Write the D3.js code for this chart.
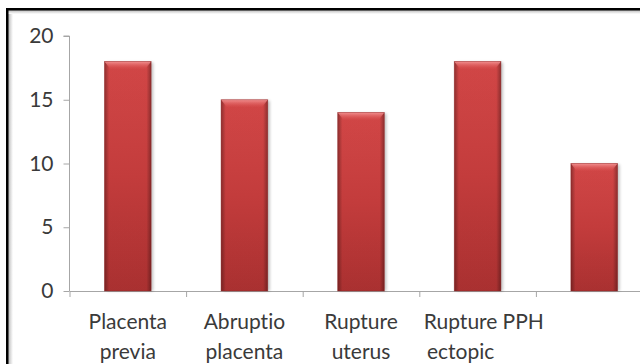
<!DOCTYPE html>
<html>
<head>
<meta charset="utf-8">
<script src="https://cdn.jsdelivr.net/npm/d3@7"></script>
<style>
  body { margin: 0; background: #fff; }
  svg { display: block; font-family: Lato, "Open Sans", sans-serif; font-variant-ligatures: none; font-feature-settings: "liga" 0; }
</style>
</head>
<body>
<svg id="chart" width="640" height="364"></svg>
<script>
// data
var categories = ["Placenta previa", "Abruptio placenta", "Rupture uterus", "Rupture ectopic", "PPH"];
var values = [18, 15, 14, 18, 10];
var yTicks = [0, 5, 10, 15, 20];

var svg = d3.select("#chart"),
    width = +svg.attr("width"),
    height = +svg.attr("height");

// plot area (runs off the right edge, like the cropped original)
var x0 = 69.5, x1 = 652.5, yTop = 36, yBot = 291;
var textColor = "#3a3a3a", axisColor = "#a6a6a6";

// frame: black top/left edge with a soft grey inner shade
var defs = svg.append("defs");
var shadeL = defs.append("linearGradient").attr("id", "shadeL");
shadeL.append("stop").attr("offset", 0).attr("stop-color", "#b8b8b8");
shadeL.append("stop").attr("offset", 1).attr("stop-color", "#fff");
var shadeT = defs.append("linearGradient").attr("id", "shadeT")
    .attr("x1", 0).attr("x2", 0).attr("y1", 0).attr("y2", 1);
shadeT.append("stop").attr("offset", 0).attr("stop-color", "#b8b8b8");
shadeT.append("stop").attr("offset", 1).attr("stop-color", "#fff");

svg.append("rect").attr("x", 8).attr("y", 10).attr("width", 5).attr("height", height - 10).attr("fill", "url(#shadeL)");
svg.append("rect").attr("x", 8).attr("y", 10).attr("width", width - 8).attr("height", 4).attr("fill", "url(#shadeT)");
svg.append("rect").attr("x", 6).attr("y", 8).attr("width", 2.5).attr("height", height - 8).attr("fill", "#000");
svg.append("rect").attr("x", 6).attr("y", 8).attr("width", width - 6).attr("height", 2.5).attr("fill", "#000");

// bar gradients
var vGrad = defs.append("linearGradient").attr("id", "barV")
    .attr("x1", 0).attr("x2", 0).attr("y1", 0).attr("y2", 1);
vGrad.append("stop").attr("offset", 0).attr("stop-color", "#dc4a4a");
vGrad.append("stop").attr("offset", 0.5).attr("stop-color", "#cd3f3f");
vGrad.append("stop").attr("offset", 1).attr("stop-color", "#b23333");

var hGrad = defs.append("linearGradient").attr("id", "barH");
hGrad.append("stop").attr("offset", 0).attr("stop-color", "#000").attr("stop-opacity", 0.35);
hGrad.append("stop").attr("offset", 0.1).attr("stop-color", "#000").attr("stop-opacity", 0.05);
hGrad.append("stop").attr("offset", 0.9).attr("stop-color", "#000").attr("stop-opacity", 0.05);
hGrad.append("stop").attr("offset", 1).attr("stop-color", "#000").attr("stop-opacity", 0.35);

var topGrad = defs.append("linearGradient").attr("id", "barTop")
    .attr("x1", 0).attr("x2", 0).attr("y1", 0).attr("y2", 1);
topGrad.append("stop").attr("offset", 0).attr("stop-color", "#f39494").attr("stop-opacity", 0.95);
topGrad.append("stop").attr("offset", 1).attr("stop-color", "#e05555").attr("stop-opacity", 0);

defs.append("filter").attr("id", "blur")
    .attr("x", "-20%").attr("y", "-5%").attr("width", "140%").attr("height", "110%")
  .append("feGaussianBlur").attr("stdDeviation", 1.5);

// scales
var x = d3.scaleBand()
    .domain(categories)
    .range([x0, x1])
    .paddingInner(0.6)
    .paddingOuter(0.3);

var xEdge = d3.scaleLinear()
    .domain([0, categories.length])
    .range([x0, x1]);

var y = d3.scaleLinear()
    .domain([0, 20])
    .range([yBot, yTop]);

// y axis
var yAxis = svg.append("g")
    .attr("transform", "translate(" + x0 + ",0)")
    .call(d3.axisLeft(y).tickValues(yTicks).tickSize(6).tickPadding(10));
yAxis.select(".domain").attr("stroke", axisColor).attr("d", "M-6," + yTop + "H0V" + yBot);
yAxis.selectAll(".tick line").attr("stroke", axisColor);
yAxis.selectAll(".tick text")
    .attr("fill", textColor)
    .style("font-size", "21px")
    .style("font-family", "Lato, sans-serif");

// x axis: ticks at category boundaries
var xAxis = svg.append("g")
    .attr("transform", "translate(0," + yBot + ")")
    .call(d3.axisBottom(xEdge).tickValues(d3.range(categories.length + 1)).tickSize(6).tickSizeOuter(0).tickFormat(""));
xAxis.select(".domain").attr("stroke", axisColor);
xAxis.selectAll(".tick line").attr("stroke", axisColor);

// bars
var bar = svg.append("g").selectAll("g")
    .data(values)
    .enter().append("g")
    .attr("transform", function(d, i) { return "translate(" + x(categories[i]) + ",0)"; });

var bw = x.bandwidth();

bar.append("rect")
    .attr("x", 2)
    .attr("y", function(d) { return y(d) + 1; })
    .attr("width", bw)
    .attr("height", function(d) { return yBot - y(d) - 1; })
    .attr("fill", "#000")
    .attr("opacity", 0.25)
    .attr("filter", "url(#blur)");

bar.append("rect")
    .attr("y", function(d) { return y(d); })
    .attr("width", bw)
    .attr("height", function(d) { return yBot - y(d); })
    .attr("fill", "url(#barV)");

bar.append("rect")
    .attr("y", function(d) { return y(d); })
    .attr("width", bw)
    .attr("height", function(d) { return yBot - y(d); })
    .attr("fill", "url(#barH)");

// bevelled top
bar.append("path")
    .attr("d", function(d) {
        var t = y(d);
        return "M0," + t + "H" + bw + "L" + (bw - 6) + "," + (t + 8) + "H6Z";
    })
    .attr("fill", "url(#barTop)");

bar.append("rect")
    .attr("y", function(d) { return y(d); })
    .attr("width", bw)
    .attr("height", function(d) { return yBot - y(d); })
    .attr("fill", "none")
    .attr("stroke", "#8e2222")
    .attr("stroke-opacity", 0.5)
    .attr("stroke-width", 0.8);

// category labels; the last two sit squeezed left as in the original
var labelNudge = [0, 0, 0, -17, -71];
var label = svg.append("g").selectAll("text")
    .data(categories)
    .enter().append("text")
    .attr("text-anchor", "middle")
    .attr("fill", textColor)
    .style("font-size", "21px")
    .attr("transform", function(d, i) {
        return "translate(" + (x(d) + bw / 2 + labelNudge[i]) + ",329)";
    });

label.selectAll("tspan")
    .data(function(d) { return d.split(" "); })
    .enter().append("tspan")
    .attr("x", 0)
    .attr("y", function(d, j) { return j * 30; })
    .text(function(d) { return d; });
</script>
</body>
</html>
